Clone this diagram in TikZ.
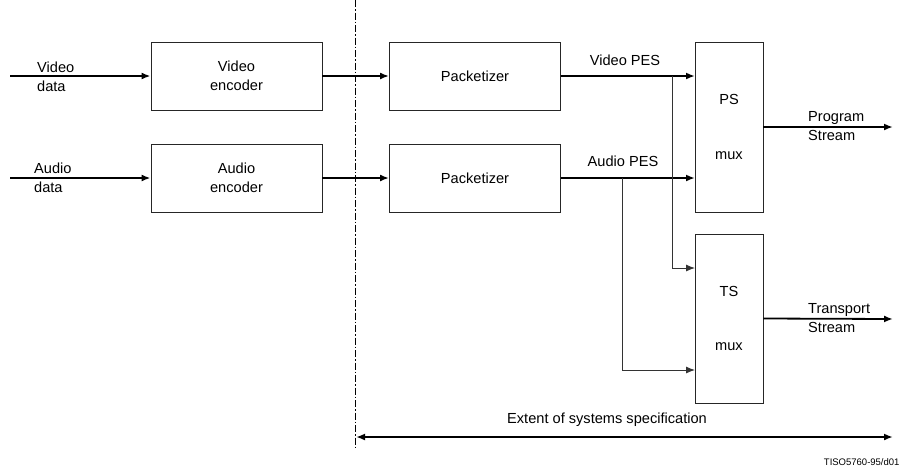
\documentclass[tikz,border=0pt]{standalone}
\usepackage{fontspec}
\setmainfont{Liberation Sans}
\usetikzlibrary{arrows.meta}
\begin{document}
\begin{tikzpicture}[x=1pt,y=-1pt,
  every node/.style={font=\fontsize{14.6}{18.5}\selectfont},
  blk/.style={draw=black!85, line width=0.9pt, minimum width=171pt, minimum height=68pt, inner sep=0pt, align=center},
  muxbox/.style={draw=black!85, line width=0.9pt, minimum width=68pt, inner sep=0pt},
  conn/.style={line width=1.8pt, -{Latex[length=9pt,width=7pt]}},
  branch/.style={line width=0.9pt, draw=black!80, -{Latex[length=9pt,width=7pt]}},
  lbl/.style={inner sep=0pt, align=left}]
\useasboundingbox (0,0) rectangle (904,472);
% blocks
\node[blk] (venc) at (236.5,76) {Video\\encoder};
\node[blk] (aenc) at (236.5,178) {Audio\\encoder};
\node[blk] (vpk) at (475,76) {Packetizer};
\node[blk] (apk) at (475,178) {Packetizer};
\node[muxbox, minimum height=170pt] (psmux) at (729,127) {};
\node[muxbox, minimum height=169pt] (tsmux) at (729,318.5) {};
\node (pst) at (729,99) {PS};
\node (psm) at (729,156) {mux};
\node (tst) at (729,291) {TS};
\node (tsm) at (729,347) {mux};
% coordinates
\coordinate (vin) at (10,76);
\coordinate (ain) at (10,178);
\coordinate (pout) at (893,127);
\coordinate (tout) at (893,319);
\coordinate (vpin) at (695,76);
\coordinate (apin) at (695,178);
\coordinate (vsplit) at (672,76);
\coordinate (asplit) at (622,178);
\coordinate (tsin1) at (695,268);
\coordinate (tsin2) at (695,370);
\coordinate (septop) at (355,0);
\coordinate (sepbot) at (355,448);
\coordinate (exl) at (356,437);
\coordinate (exr) at (893,437);
% labels
\node[lbl, anchor=west] (vdl) at (37,77) {Video\\data};
\node[lbl, anchor=west] (adl) at (34,178) {Audio\\data};
\node (vpes) at (625,60) {Video PES};
\node (apes) at (623,161) {Audio PES};
\node[lbl, anchor=west] (psl) at (808,126) {Program\\Stream};
\node[lbl, anchor=west] (tsl) at (808,318) {Transport\\Stream};
\node (ext) at (607,420) {Extent of systems specification};
\node[anchor=east, font=\fontsize{9.5}{10}\selectfont] (tiso) at (903,462) {TISO5760-95/d01};
% connectors
\draw[conn] (vin) -- (venc.west);
\draw[conn] (ain) -- (aenc.west);
\draw[conn] (venc.east) -- (vpk.west);
\draw[conn] (aenc.east) -- (apk.west);
\draw[conn] (vpk.east) -- (vpin);
\draw[conn] (apk.east) -- (apin);
\draw[conn] (psmux.east) -- (pout);
\draw[conn] (tsmux.east) -- (tout);
\draw[branch] (vsplit) |- (tsin1);
\draw[branch] (asplit) |- (tsin2);
\draw[line width=0.9pt, dash pattern=on 7pt off 2pt on 1.5pt off 2pt] (septop) -- (sepbot);
\draw[line width=1.8pt, {Latex[length=9pt,width=7pt]}-{Latex[length=9pt,width=7pt]}] (exl) -- (exr);
\end{tikzpicture}
\end{document}
